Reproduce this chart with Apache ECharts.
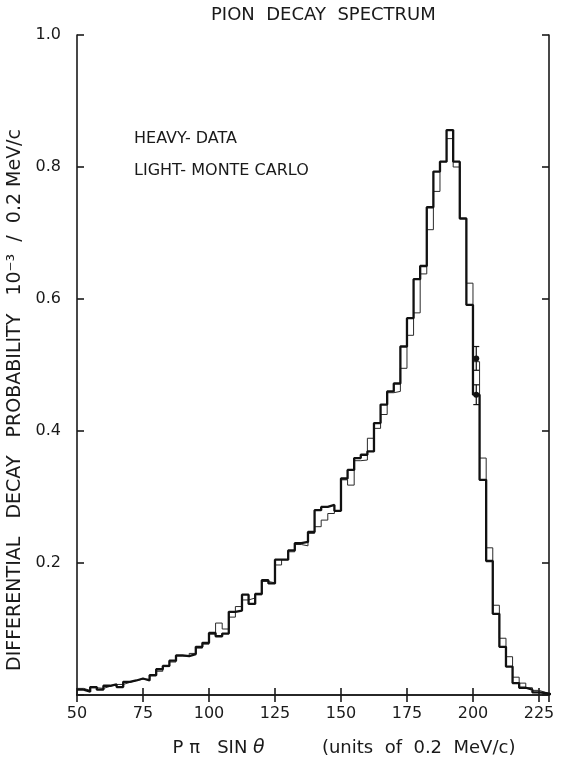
<!DOCTYPE html>
<html>
<head>
<meta charset="utf-8">
<script src="https://cdn.jsdelivr.net/npm/echarts@6/dist/echarts.min.js"></script>
<style>
html,body{margin:0;padding:0;background:#fff;}
#chart{width:568px;height:759px;}
</style>
</head>
<body>
<div id="chart"></div>
<script>
// Bin left edges (units of 0.2 MeV/c), bin width 2.5
const binLeft = [50,52.5,55,57.5,60,62.5,65,67.5,70,72.5,75,77.5,80,82.5,85,87.5,90,92.5,95,97.5,100,102.5,105,107.5,110,112.5,115,117.5,120,122.5,125,127.5,130,132.5,135,137.5,140,142.5,145,147.5,150,152.5,155,157.5,160,162.5,165,167.5,170,172.5,175,177.5,180,182.5,185,187.5,190,192.5,195,197.5,200,202.5,205,207.5,210,212.5,215,217.5,220,222.5,225,227.5];
const binWidth = 2.5;

// Heavy line: data
const heavyData = [0.008,0.005,0.012,0.008,0.014,0.016,0.012,0.020,0.022,0.025,
  0.022,0.030,0.039,0.044,0.052,0.060,0.059,0.062,0.073,0.079,
  0.094,0.089,0.093,0.126,0.128,0.152,0.138,0.153,0.174,0.169,
  0.205,0.205,0.219,0.230,0.232,0.247,0.280,0.285,0.288,0.279,
  0.328,0.341,0.359,0.364,0.369,0.412,0.440,0.460,0.472,0.528,
  0.571,0.630,0.650,0.739,0.793,0.808,0.856,0.808,0.722,0.591,
  0.455,0.326,0.203,0.123,0.073,0.043,0.018,0.011,0.008,0.004,
  0.003,0.001];

// Light line: Monte Carlo
const lightMC = [0.010,0.007,0.011,0.010,0.013,0.016,0.016,0.019,0.022,0.024,
  0.024,0.029,0.036,0.043,0.050,0.059,0.059,0.063,0.071,0.077,
  0.092,0.109,0.100,0.118,0.134,0.144,0.147,0.152,0.172,0.170,
  0.197,0.205,0.217,0.228,0.226,0.245,0.255,0.265,0.275,0.279,
  0.326,0.318,0.355,0.356,0.389,0.404,0.425,0.458,0.460,0.495,
  0.545,0.579,0.638,0.705,0.763,0.808,0.843,0.800,0.722,0.624,
  0.505,0.359,0.223,0.136,0.086,0.058,0.027,0.018,0.011,0.007,
  0.004,0.002];

// Individual data points with error bars: [x, y, err]
const errPoints = [[201.25, 0.51, 0.018], [201.25, 0.455, 0.015]];

const yTicks = ['0.2','0.4','0.6','0.8','1.0'];
const xTicks = [50,75,100,125,150,175,200,225];

function stepData(vals){
  const d = binLeft.map((x,i)=>[x, vals[i]]);
  d.push([binLeft[binLeft.length-1] + binWidth, vals[vals.length-1]]);
  return d;
}

const FONT = '"DejaVu Sans", "Liberation Sans", sans-serif';
const INK = '#1a1a1a';
const chart = echarts.init(document.getElementById('chart'), null, {renderer:'canvas'});

const axisLineStyle = {color:INK, width:1.6};

chart.setOption({
  animation:false,
  backgroundColor:'#ffffff',
  title:{
    text:'PION  DECAY  SPECTRUM',
    left:206, top:1,
    textStyle:{fontFamily:FONT, fontSize:18, fontWeight:'normal', color:INK}
  },
  legend:{
    orient:'vertical',
    left:124, top:126,
    icon:'none', itemWidth:0, itemHeight:12, itemGap:16,
    selectedMode:false,
    data:['HEAVY- DATA','LIGHT- MONTE CARLO'],
    textStyle:{fontFamily:FONT, fontSize:16, color:INK}
  },
  grid:{left:77, right:19, top:35, bottom:64, containLabel:false, outerBoundsMode:'none'},
  xAxis:[{
    type:'value', min:50, max:228.8, interval:25, position:'bottom',
    name:'{a|P \u03C0   SIN }{i|\u03B8}{a|          (units  of  0.2  MeV/c)}',
    nameLocation:'middle', nameGap:44,
    nameTextStyle:{fontFamily:FONT, fontSize:18, color:INK, padding:[0,0,0,62],
      rich:{
        a:{fontFamily:FONT, fontSize:18, color:INK},
        i:{fontFamily:FONT, fontSize:19, color:INK, fontStyle:'italic'}
      }},
    axisLine:{show:true, lineStyle:axisLineStyle},
    axisTick:{show:true, inside:true, length:7, lineStyle:axisLineStyle},
    axisLabel:{fontFamily:FONT, fontSize:16, color:INK, margin:11, showMaxLabel:false,
      formatter:v => xTicks.indexOf(v) >= 0 ? String(v) : ''},
    splitLine:{show:false}
  },{
    type:'value', min:50, max:228.8, interval:25, position:'top',
    axisLine:{show:true, lineStyle:axisLineStyle},
    axisTick:{show:true, inside:true, length:7, lineStyle:axisLineStyle},
    axisLabel:{show:false}, splitLine:{show:false}
  }],
  yAxis:[{
    type:'value', min:0, max:1, interval:0.2, position:'left',
    name:'DIFFERENTIAL   DECAY   PROBABILITY   10\u207B\u00B3  /  0.2 MeV/c',
    nameLocation:'middle', nameGap:44,
    nameTextStyle:{fontFamily:FONT, fontSize:19, color:INK, padding:[0,70,0,0]},
    axisLine:{show:true, lineStyle:axisLineStyle},
    axisTick:{show:true, inside:true, length:7, lineStyle:axisLineStyle},
    axisLabel:{fontFamily:FONT, fontSize:16, color:INK, margin:16,
      formatter:v => { const s = v.toFixed(1); return yTicks.indexOf(s) >= 0 ? s : ''; }},
    splitLine:{show:false}
  },{
    type:'value', min:0, max:1, interval:0.2, position:'right',
    axisLine:{show:true, lineStyle:axisLineStyle},
    axisTick:{show:true, inside:true, length:7, lineStyle:axisLineStyle},
    axisLabel:{show:false}, splitLine:{show:false}
  }],
  series:[{
    name:'LIGHT- MONTE CARLO', type:'line', step:'end',
    data:stepData(lightMC), symbol:'none', clip:true,
    lineStyle:{color:'#2a2a2a', width:1}, itemStyle:{color:'#2a2a2a'}, z:2
  },{
    name:'HEAVY- DATA', type:'line', step:'end',
    data:stepData(heavyData), symbol:'none', clip:true,
    lineStyle:{color:'#111111', width:2.3}, itemStyle:{color:'#111111'}, z:3
  },{
    name:'points', type:'custom', data:errPoints, z:4,
    renderItem:(params, api) => {
      const c = api.coord([api.value(0), api.value(1)]);
      const hi = api.coord([api.value(0), api.value(1) + api.value(2)]);
      const lo = api.coord([api.value(0), api.value(1) - api.value(2)]);
      const st = {stroke:'#111', lineWidth:1.2};
      return {type:'group', children:[
        {type:'line', shape:{x1:c[0], y1:hi[1], x2:c[0], y2:lo[1]}, style:st},
        {type:'line', shape:{x1:c[0]-3, y1:hi[1], x2:c[0]+3, y2:hi[1]}, style:st},
        {type:'line', shape:{x1:c[0]-3, y1:lo[1], x2:c[0]+3, y2:lo[1]}, style:st},
        {type:'circle', shape:{cx:c[0], cy:c[1], r:3}, style:{fill:'#111'}}
      ]};
    }
  }]
});
</script>
</body>
</html>
